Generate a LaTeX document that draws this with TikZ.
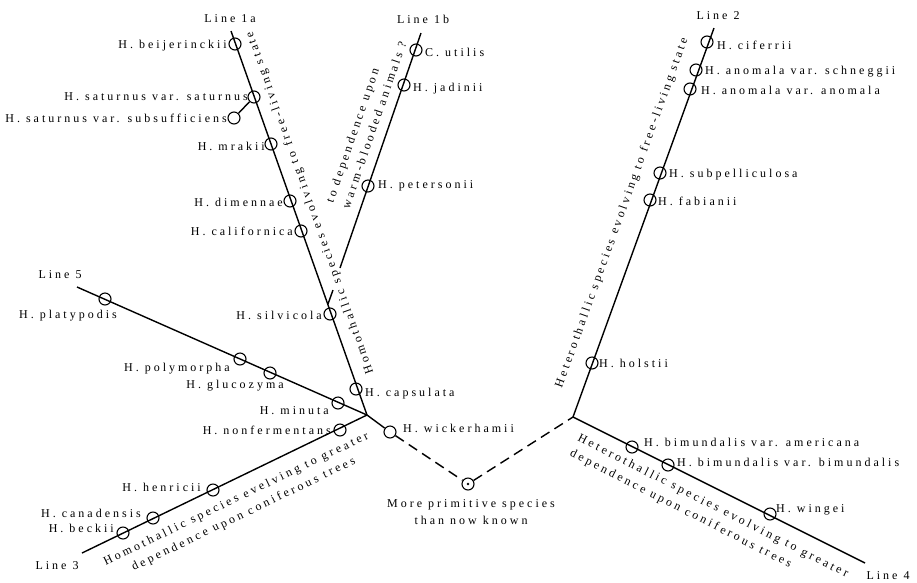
\documentclass[tikz,border=0pt]{standalone}
\usepackage{fontspec}
\setmainfont{Liberation Serif}[LetterSpace=25]
\newcommand\labfont{\fontsize{12}{17}\selectfont}
\begin{document}
\begin{tikzpicture}[x=1pt,y=-1pt,
	sp/.style={circle,draw,line width=1.1pt,minimum size=12pt,inner sep=0pt},
	lab/.style={font=\labfont,inner sep=1pt},
	branch/.style={line width=1.4pt}]
	\useasboundingbox (0,0) rectangle (917,582);
	% ends and forks
	\coordinate (j1) at (367,415);
	\coordinate (j2) at (573,417);
	\coordinate (top1a) at (231,31);
	\coordinate (j1b) at (328,304);
	\coordinate (gapa) at (333,290);
	\coordinate (gapb) at (340,268);
	\coordinate (top1b) at (421,33);
	\coordinate (top2) at (714,28);
	\coordinate (end3) at (82,553);
	\coordinate (end4) at (865,563);
	\coordinate (end5) at (77,287);
	\draw[branch] (j1) -- (top1a);
	\draw[branch] (j1b) -- (gapa);
	\draw[branch] (gapb) -- (top1b);
	\draw[branch] (j2) -- (top2);
	\draw[branch] (j1) -- (end3);
	\draw[branch] (j2) -- (end4);
	\draw[branch] (j1) -- (end5);
	% line 1a
	\node[lab] (l1a) at (230,19) {Line 1a};
	\node[sp] (beij) at (235,44) {};
	\node[sp] (satsat) at (254,97) {};
	\node[sp] (satsub) at (234,118) {};
	\node[sp] (mrak) at (271,144) {};
	\node[sp] (dime) at (290,201) {};
	\node[sp] (cali) at (301,231) {};
	\node[sp] (silv) at (330,314) {};
	\node[sp] (caps) at (356,389) {};
	\node[sp] (wick) at (390,432) {};
	\draw[branch] (satsat) -- (satsub);
	\draw[branch] (j1) -- (wick);
	\node[lab,anchor=east] (beij-l) at (228,46) {H. beijerinckii};
	\node[lab,anchor=east] (satsat-l) at (249,97) {H. saturnus var. saturnus};
	\node[lab,anchor=east] (satsub-l) at (228,118) {H. saturnus var. subsufficiens};
	\node[lab,anchor=east] (mrak-l) at (266,146) {H. mrakii};
	\node[lab,anchor=east] (dime-l) at (284,202) {H. dimennae};
	\node[lab,anchor=east] (cali-l) at (294,231) {H. californica};
	\node[lab,anchor=east] (silv-l) at (323,315) {H. silvicola};
	\node[lab,anchor=west] (caps-l) at (364,394) {H. capsulata};
	\node[lab,anchor=west] (wick-l) at (402,428) {H. wickerhamii};
	\node[lab,rotate=109.5] (homo1a) at (310,203) {Homothallic species evolving to free-living state};
	% line 1b
	\node[lab] (l1b) at (423,19) {Line 1b};
	\node[sp] (util) at (416,50) {};
	\node[sp] (jadi) at (404,85) {};
	\node[sp] (pete) at (368,186) {};
	\node[lab,anchor=west] (util-l) at (424,52) {C. utilis};
	\node[lab,anchor=west] (jadi-l) at (412,89) {H. jadinii};
	\node[lab,anchor=west] (pete-l) at (377,186) {H. petersonii};
	\node[lab,rotate=71,align=left] (warm1b) at (366,122) {to dependence upon\\warm-blooded animals ?};
	% line 2
	\node[lab] (l2) at (718,16) {Line 2};
	\node[sp] (cife) at (707,42) {};
	\node[sp] (schn) at (696,70) {};
	\node[sp] (anom) at (690,89) {};
	\node[sp] (subp) at (660,173) {};
	\node[sp] (fabi) at (650,200) {};
	\node[sp] (hols) at (592,363) {};
	\node[lab,anchor=west] (cife-l) at (716,45) {H. ciferrii};
	\node[lab,anchor=west] (schn-l) at (704,72) {H. anomala var. schneggii};
	\node[lab,anchor=west] (anom-l) at (700,90) {H. anomala var. anomala};
	\node[lab,anchor=west] (subp-l) at (668,175) {H. subpelliculosa};
	\node[lab,anchor=west] (fabi-l) at (657,201) {H. fabianii};
	\node[lab,anchor=west] (hols-l) at (598,363) {H. holstii};
	\node[lab,rotate=70.2] (hetero2) at (622,213) {Heterothallic species evolving to free-living state};
	% line 4
	\node[lab] (l4) at (888,576) {Line 4};
	\node[sp] (amer) at (632,447) {};
	\node[sp] (bimu) at (668,465) {};
	\node[sp] (wing) at (770,514) {};
	\node[lab,anchor=west] (amer-l) at (643,442) {H. bimundalis var. americana};
	\node[lab,anchor=west] (bimu-l) at (676,462) {H. bimundalis var. bimundalis};
	\node[lab,anchor=west] (wing-l) at (775,510) {H. wingei};
	\node[lab,rotate=-27,align=left] (hetero4) at (709,514) {Heterothallic species evolving to greater\\dependence upon coniferous trees};
	% line 5
	\node[lab] (l5) at (60,275) {Line 5};
	\node[sp] (plat) at (105,299) {};
	\node[sp] (poly) at (240,359) {};
	\node[sp] (gluc) at (270,373) {};
	\node[sp] (minu) at (338,403) {};
	\node[lab] (plat-l) at (68,316) {H. platypodis};
	\node[lab,anchor=east] (poly-l) at (231,369) {H. polymorpha};
	\node[lab] (gluc-l) at (235,386) {H. glucozyma};
	\node[lab,anchor=east] (minu-l) at (330,411) {H. minuta};
	% line 3
	\node[lab] (l3) at (57,566) {Line 3};
	\node[sp] (nonf) at (340,430) {};
	\node[sp] (henr) at (213,490) {};
	\node[sp] (cana) at (153,518) {};
	\node[sp] (beck) at (123,533) {};
	\node[lab,anchor=east] (nonf-l) at (332,430) {H. nonfermentans};
	\node[lab,anchor=east] (henr-l) at (202,487) {H. henricii};
	\node[lab,anchor=east] (cana-l) at (142,513) {H. canadensis};
	\node[lab,anchor=east] (beck-l) at (115,528) {H. beckii};
	\node[lab,rotate=25.8,align=center] (homo3) at (240,507) {Homothallic species evelving to greater\\dependence upon coniferous trees};
	% ancestor
	\node[sp] (prim) at (468,484) {};
	\fill (prim.center) circle (1.3pt);
	\draw[branch,dash pattern=on 10pt off 6pt] (wick) -- (prim) -- (j2);
	\node[lab,align=center] (prim-l) at (471,512) {More primitive species\\than now known};
\end{tikzpicture}
\end{document}
